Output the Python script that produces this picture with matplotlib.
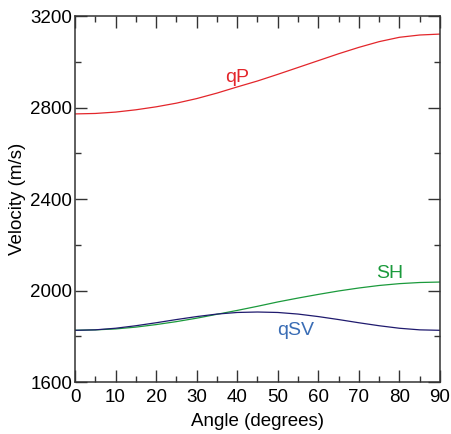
import numpy as np
import matplotlib
matplotlib.use("Agg")
from matplotlib import pyplot as plt
from matplotlib.ticker import MultipleLocator

plt.rcParams['font.family'] = ['Liberation Sans', 'DejaVu Sans']

angle = [0, 5, 10, 15, 20, 25, 30, 35, 40, 45, 50, 55, 60, 65, 70, 75, 80, 85, 90]
vqP = [2772, 2774, 2780, 2790, 2803, 2819, 2839, 2863, 2890, 2916, 2945,
       2975, 3005, 3035, 3063, 3088, 3107, 3117, 3121]
vSH = [1826, 1828, 1832, 1840, 1851, 1864, 1879, 1896, 1913, 1931, 1950,
       1967, 1983, 1998, 2011, 2022, 2030, 2035, 2037]
vqSV = [1826, 1828, 1835, 1846, 1859, 1873, 1886, 1897, 1904, 1906, 1904,
        1897, 1886, 1873, 1859, 1846, 1835, 1828, 1826]

fig = plt.figure(figsize=(4.51, 4.34), dpi=100)
ax = fig.add_axes([0.1663, 0.1198, 0.8093, 0.8433])

ax.plot(angle, vqP, color='#e3262b', lw=0.9)
ax.plot(angle, vSH, color='#1b9a3c', lw=0.9)
ax.plot(angle, vqSV, color='#1f1a6e', lw=0.9)

ax.text(40, 2910, 'qP', color='#e3262b', fontsize=14, ha='center', va='baseline')
ax.text(77.7, 2055, 'SH', color='#1b9a3c', fontsize=14, ha='center', va='baseline')
ax.text(54.3, 1806, 'qSV', color='#3a6db5', fontsize=14, ha='center', va='baseline')

ax.set_xlim(0, 90)
ax.set_ylim(1600, 3200)
ax.xaxis.set_major_locator(MultipleLocator(10))
ax.xaxis.set_minor_locator(MultipleLocator(5))
ax.yaxis.set_major_locator(MultipleLocator(400))
ax.yaxis.set_minor_locator(MultipleLocator(200))
ax.tick_params(which='both', direction='in', top=True, right=True,
               labelsize=13.5, color='#333333', width=1.0)
ax.tick_params(which='major', length=8.5)
ax.tick_params(which='minor', length=4.3)
ax.tick_params(axis='x', pad=5)
ax.tick_params(axis='y', pad=2)
for s in ax.spines.values():
    s.set_color('#333333')
    s.set_linewidth(1.1)

ax.set_xlabel('Angle (degrees)', fontsize=13.5, labelpad=5)
ax.set_ylabel('Velocity (m/s)', fontsize=13.5, labelpad=3)

plt.savefig('out.png', dpi=100)
